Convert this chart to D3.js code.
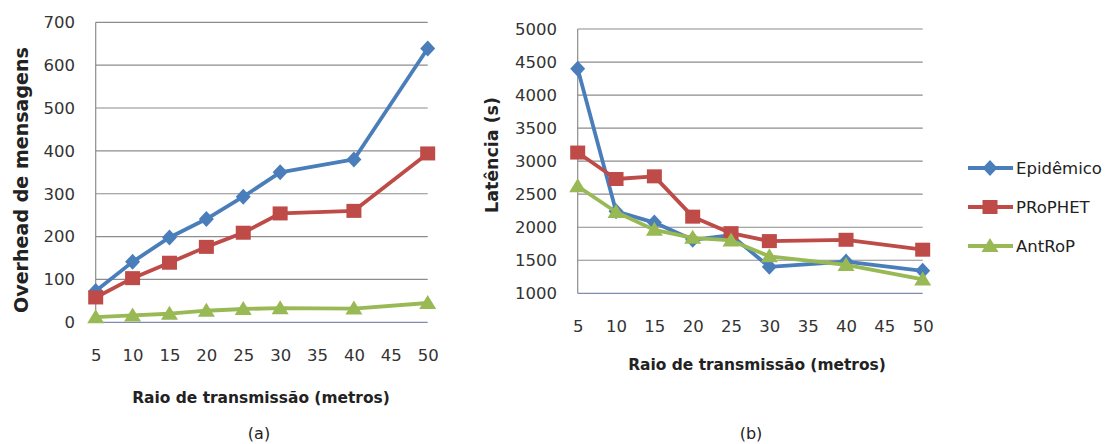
<!DOCTYPE html>
<html><head><meta charset="utf-8">
<script src="https://cdn.jsdelivr.net/npm/d3@7"></script>
<style>body{margin:0;background:#fff}text{font-family:"DejaVu Sans",sans-serif}</style>
</head><body>
<svg id="c" width="1110" height="444"></svg>
<script>
const categories = [5,10,15,20,25,30,35,40,45,50];
const seriesNames = ["Epidêmico","PRoPHET","AntRoP"];
const colors = ["#4A7EBB","#BE4B48","#98B954"];
const overheadEpidemico = [73,141,198,241,293,350,null,380,null,639];
const overheadProphet   = [58,103,139,176,209,254,null,260,null,394];
const overheadAntrop    = [12,16,20,27,31,33,null,32,null,45];
const latEpidemico = [4400,2240,2070,1810,1880,1400,null,1480,null,1340];
const latProphet   = [3130,2730,2770,2160,1910,1790,null,1810,null,1660];
const latAntrop    = [2620,2230,1960,1840,1800,1560,null,1430,null,1210];
const yTicksA = [0,100,200,300,400,500,600,700];
const yTicksB = [1000,1500,2000,2500,3000,3500,4000,4500,5000];

const svg = d3.select("#c");
const FONT = "'DejaVu Sans',sans-serif";

function fit(sel, target){
  const fs = +sel.attr("font-size");
  const w = sel.node().getComputedTextLength();
  sel.attr("font-size", fs*target/w);
}

function marker(g, type, x, y, color){
  if(type===0){
    g.append("path").attr("d",`M${x},${y-8}L${x+7.5},${y}L${x},${y+8}L${x-7.5},${y}Z`).attr("fill",color);
  } else if(type===1){
    g.append("rect").attr("x",x-7.5).attr("y",y-7).attr("width",15).attr("height",14).attr("fill",color);
  } else {
    g.append("path").attr("d",`M${x},${y-8}L${x+8.5},${y+6}L${x-8.5},${y+6}Z`).attr("fill",color);
  }
}

function chart(opts){
  const g = svg.append("g");
  const x = d3.scalePoint().domain(categories).range(opts.xr);
  const y = d3.scaleLinear().domain(opts.yd).range(opts.yr);
  g.append("g").selectAll("line").data(opts.ticks.slice(1)).join("line")
    .attr("x1",opts.xr[0]).attr("x2",opts.xr[1])
    .attr("y1",d=>y(d)).attr("y2",d=>y(d)).attr("stroke","#8c8c8c").attr("stroke-width",1.2);
  g.append("line").attr("x1",opts.xr[0]).attr("x2",opts.xr[0]).attr("y1",opts.yr[0]).attr("y2",opts.yr[1]).attr("stroke","#8c8c8c").attr("stroke-width",1.2);
  g.append("line").attr("x1",opts.xr[0]).attr("x2",opts.xr[1]).attr("y1",opts.yr[0]).attr("y2",opts.yr[0]).attr("stroke","#7f8cb0").attr("stroke-width",1.2);
  const yAxis = d3.axisLeft(y).tickValues(opts.ticks).tickFormat(d3.format("d")).tickSize(0).tickPadding(0);
  const ya = g.append("g").attr("transform",`translate(${opts.ylabX},0)`).call(yAxis);
  ya.select(".domain").remove();
  ya.selectAll("text").attr("font-size",16.5).attr("fill","#333").attr("font-family",FONT);
  const xAxis = d3.axisBottom(x).tickSize(0).tickPadding(0);
  const xa = g.append("g").attr("transform",`translate(0,${opts.yr[0]+27})`).call(xAxis);
  xa.select(".domain").remove();
  xa.selectAll("text").attr("font-size",16.5).attr("fill","#333").attr("font-family",FONT);
  opts.series.forEach((vals,i)=>{
    const pts = categories.map((c,k)=>({c,v:vals[k]})).filter(d=>d.v!==null);
    g.append("path").datum(pts)
      .attr("d",d3.line().x(d=>x(d.c)).y(d=>y(d.v)))
      .attr("fill","none").attr("stroke",colors[i]).attr("stroke-width",3.8).attr("stroke-linejoin","round");
    pts.forEach(d=>marker(g,i,x(d.c),y(d.v),colors[i]));
  });
  const yt = g.append("text").attr("transform",`translate(${opts.ytX},${opts.ytY}) rotate(-90)`)
    .attr("text-anchor","middle").attr("dominant-baseline","central").attr("font-weight","bold").attr("font-size",16).attr("fill","#222").text(opts.ytitle);
  fit(yt, opts.ytLen);
  const xt = g.append("text").attr("x",opts.xtX).attr("y",opts.xtY).attr("text-anchor","middle").attr("dominant-baseline","central")
    .attr("font-weight","bold").attr("font-size",16).attr("fill","#222").text("Raio de transmissão (metros)");
  fit(xt, 258);
  g.append("text").attr("x",opts.capX).attr("y",433).attr("text-anchor","middle").attr("dominant-baseline","central")
    .attr("font-size",16).attr("fill","#222").text(opts.cap);
}

chart({xr:[95.7,427.7], yd:[0,700], yr:[322.3,22.3], ticks:yTicksA, ylabX:75,
  series:[overheadEpidemico,overheadProphet,overheadAntrop],
  ytitle:"Overhead de mensagens", ytX:21, ytY:180, ytLen:266, xtX:261, xtY:398, capX:259, cap:"(a)"});
chart({xr:[577.7,922.7], yd:[1000,5000], yr:[293.3,29], ticks:yTicksB, ylabX:557,
  series:[latEpidemico,latProphet,latAntrop],
  ytitle:"Latência (s)", ytX:492, ytY:155, ytLen:116, xtX:757, xtY:365, capX:751, cap:"(b)"});

const lg = svg.append("g");
seriesNames.forEach((n,i)=>{
  const yy = 168 + i*39;
  lg.append("line").attr("x1",968).attr("x2",1013).attr("y1",yy).attr("y2",yy).attr("stroke",colors[i]).attr("stroke-width",3.8);
  marker(lg,i,990,yy,colors[i]);
  lg.append("text").attr("x",1016).attr("y",yy).attr("dominant-baseline","central").attr("font-size",16.5).attr("fill","#222").text(n);
});
</script>
</body></html>
